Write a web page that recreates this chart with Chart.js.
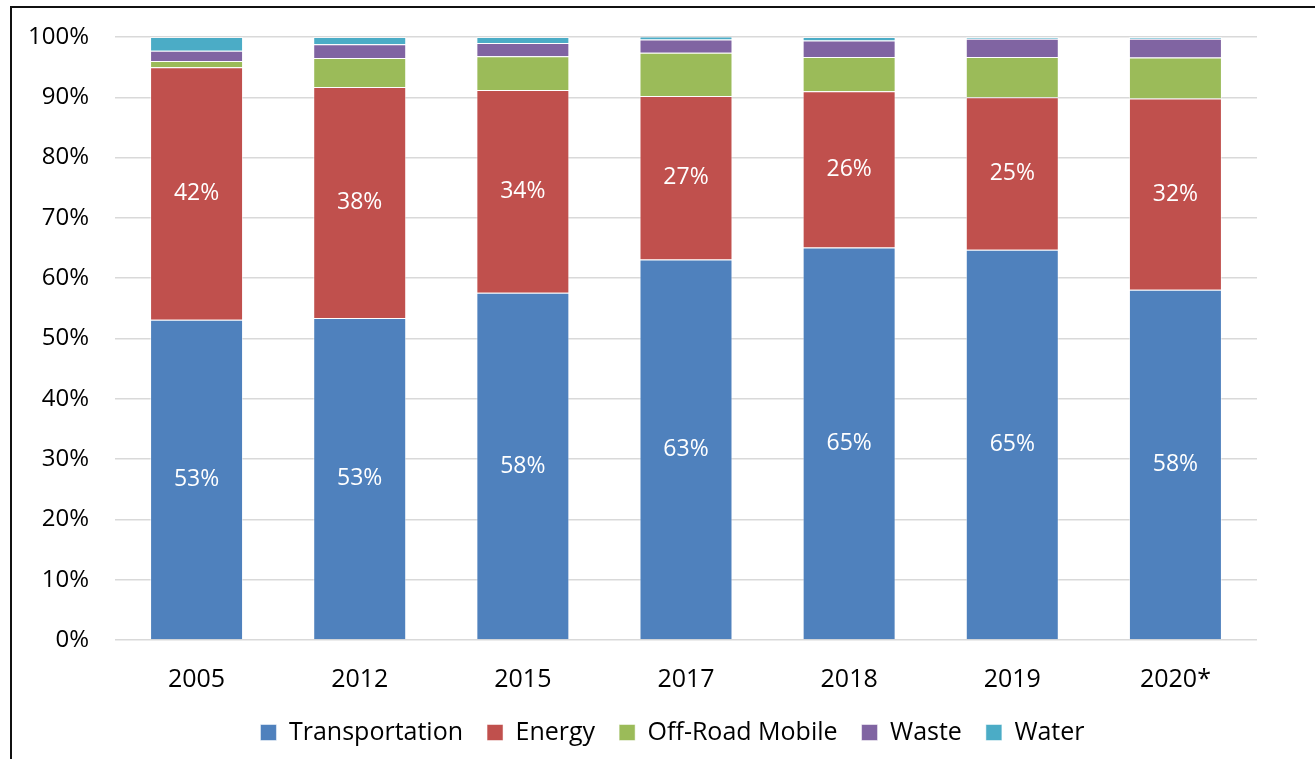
<!DOCTYPE html>
<html>
<head>
<meta charset="utf-8">
<script src="https://cdn.jsdelivr.net/npm/chart.js@4.4.0/dist/chart.umd.min.js"></script>
<style>
    html, body { margin: 0; padding: 0; background: #fff; overflow: hidden; }
    .frame {
        position: absolute; left: 10px; top: 6px; width: 1400px; height: 800px;
        border-left: 2px solid #111; border-top: 2px solid #111;
    }
    .chart-box { position: absolute; left: 0; top: 0; width: 1315px; height: 759px; }
</style>
</head>
<body>
<div class="frame"></div>
<div class="chart-box"><canvas id="shareChart" width="1315" height="759"></canvas></div>
<script>
const years = ['2005', '2012', '2015', '2017', '2018', '2019', '2020*'];
const transportation = [53.1, 53.4, 57.6, 63.1, 65.1, 64.7, 58.1];
const energy = [41.9, 38.3, 33.6, 27.1, 25.9, 25.3, 31.7];
const offRoad = [1.0, 4.8, 5.6, 7.2, 5.7, 6.7, 6.8];
const waste = [1.7, 2.3, 2.2, 2.2, 2.7, 3.0, 3.1];
const water = [2.3, 1.2, 1.0, 0.5, 0.6, 0.3, 0.3];

const FONT = "'Open Sans', 'Noto Sans', sans-serif";

// white % labels on the two big segments only
const segmentLabels = {
    id: 'segmentLabels',
    afterDatasetsDraw(chart) {
        const ctx = chart.ctx;
        ctx.save();
        ctx.font = '23px ' + FONT;
        ctx.fillStyle = '#fff';
        ctx.textAlign = 'center';
        ctx.textBaseline = 'middle';
        [0, 1].forEach(di => {
            const meta = chart.getDatasetMeta(di);
            meta.data.forEach((bar, i) => {
                const v = chart.data.datasets[di].data[i];
                const mid = (bar.y + bar.base) / 2;
                ctx.fillText(Math.round(v) + '%', bar.x, mid);
            });
        });
        ctx.restore();
    }
};

// legend padding is also the gap between items; keep the box short
// and nudge it right so it sits where the original one does
const legendTweak = {
    id: 'legendTweak',
    beforeLayout(chart) {
        const lg = chart.legend;
        if (!lg || lg._patched) return;
        const orig = lg.fit;
        lg.fit = function () {
            orig.call(this);
            this.height = 63;
        };
        lg._patched = true;
    },
    afterLayout(chart) {
        const lg = chart.legend;
        if (!lg) return;
        lg.left += 34;
        lg.right += 34;
    }
};

const ds = (label, data, color) => ({
    label, data,
    backgroundColor: color,
    borderColor: 'rgba(255,255,255,0.5)',
    borderWidth: 1,
    barPercentage: 0.57,
    categoryPercentage: 1.0,
});

new Chart(document.getElementById('shareChart'), {
    type: 'bar',
    data: {
        labels: years,
        datasets: [
            ds('Transportation', transportation, '#4F81BD'),
            ds('Energy', energy, '#C0504D'),
            ds('Off-Road Mobile', offRoad, '#9BBB59'),
            ds('Waste', waste, '#8064A2'),
            ds('Water', water, '#4BACC6'),
        ],
    },
    options: {
        responsive: false,
        animation: false,
        layout: { padding: { left: 20, right: 58, top: 37, bottom: 0 } },
        plugins: {
            tooltip: { enabled: false },
            legend: {
                position: 'bottom',
                labels: {
                    font: { family: FONT, size: 25 },
                    color: '#000',
                    boxWidth: 16,
                    boxHeight: 16,
                    padding: 24,
                },
            },
        },
        scales: {
            x: {
                stacked: true,
                grid: { display: false, drawTicks: false },
                border: { display: false },
                ticks: { font: { family: FONT, size: 25 }, color: '#000', padding: 25 },
                afterFit: (s) => { s.height = 56; },
            },
            y: {
                stacked: true,
                min: 0,
                max: 100,
                ticks: {
                    stepSize: 10,
                    font: { family: FONT, size: 24 },
                    color: '#000',
                    padding: 26,
                    callback: (v) => v + '%',
                },
                grid: { color: '#d9d9d9', lineWidth: 1.5, drawTicks: false },
                border: { display: false },
                afterFit: (s) => { s.width = 95; s.paddingTop = 0; s.paddingBottom = 0; },
            },
        },
    },
    plugins: [segmentLabels, legendTweak],
});
</script>
</body>
</html>
